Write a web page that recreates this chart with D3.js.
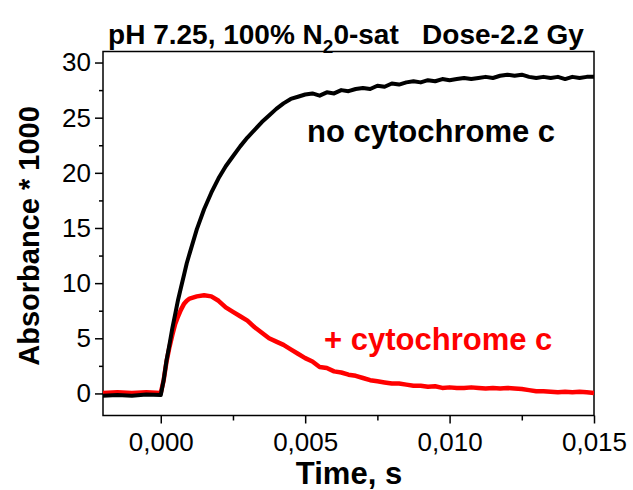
<!DOCTYPE html>
<html><head><meta charset="utf-8">
<script src="https://cdn.jsdelivr.net/npm/d3@7"></script>
<style>body{margin:0;background:#fff}svg{display:block}text{font-family:"Liberation Sans",Arial,sans-serif}</style>
</head><body><svg id="c" width="633" height="490"></svg>
<script>
const times = [-0.002,-0.0015,-0.001,-0.0005,0,0.0001,0.0002,0.0003,0.0004,0.0005,0.0006,0.0007,0.0008,0.0009,0.001,
  0.00125,0.0015,0.00175,0.002,0.00225,0.0025,0.00275,0.003,0.00325,0.0035,0.00375,0.004,0.00425,0.0045,0.00475,
  0.005,0.00525,0.0055,0.00575,0.006,0.00625,0.0065,0.00675,0.007,0.00725,0.0075,0.00775,0.008,0.00825,0.0085,0.00875,
  0.009,0.00925,0.0095,0.00975,0.01,0.01025,0.0105,0.01075,0.011,0.01125,0.0115,0.01175,0.012,0.01225,0.0125,0.01275,
  0.013,0.01325,0.0135,0.01375,0.014,0.01425,0.0145,0.01475,0.015];
const noCyt = [-0.2,-0.15,-0.2,-0.1,-0.15,1.2,3.0,4.4,5.9,7.2,8.5,9.6,10.7,11.8,12.7,
  14.9,16.7,18.2,19.5,20.6,21.5,22.4,23.2,23.9,24.6,25.2,25.8,26.3,26.7,26.9,
  27.1,27.2,27.0,27.3,27.2,27.5,27.4,27.6,27.7,27.6,27.9,27.8,28.1,28.0,28.2,28.3,
  28.2,28.4,28.3,28.5,28.4,28.5,28.6,28.5,28.6,28.7,28.6,28.8,28.9,28.8,28.9,28.7,
  28.6,28.7,28.6,28.7,28.5,28.7,28.6,28.7,28.7];
const withCyt = [0.05,0.1,0.05,0.1,0.05,1.2,2.9,4.2,5.3,6.3,7.0,7.6,8.1,8.4,8.6,
  8.8,8.9,8.8,8.4,7.8,7.4,7.0,6.6,6.0,5.5,5.0,4.7,4.4,4.0,3.6,
  3.2,2.9,2.4,2.3,2.0,1.9,1.7,1.6,1.4,1.2,1.1,1.0,0.9,0.9,0.8,0.7,
  0.7,0.6,0.65,0.5,0.55,0.5,0.5,0.55,0.5,0.45,0.5,0.45,0.5,0.45,0.4,0.3,
  0.2,0.2,0.15,0.1,0.15,0.1,0.15,0.1,0.05];
const xTicks = [0,0.005,0.010,0.015];
const xTickLabels = ["0,000","0,005","0,010","0,015"];
const yTicks = [0,5,10,15,20,25,30];

const svg = d3.select("#c");
const L=103,R=594,T=51.5,B=415.5;
const x = d3.scaleLinear().domain([-0.002,0.015]).range([L,R]);
const y = d3.scaleLinear().domain([-2,31]).range([B,T]);

svg.append("rect").attr("x",L).attr("y",T).attr("width",R-L).attr("height",B-T)
  .attr("fill","none").attr("stroke","#000").attr("stroke-width",1.5);

const xAxis = svg.append("g").attr("transform",`translate(0,${B})`)
  .call(d3.axisBottom(x).tickValues(xTicks).tickSize(8).tickPadding(9).tickFormat((d,i)=>xTickLabels[i]));
const xMinor = svg.append("g").attr("transform",`translate(0,${B})`)
  .call(d3.axisBottom(x).tickValues([0.0025,0.0075,0.0125]).tickSize(5).tickFormat(""));
const yAxis = svg.append("g").attr("transform",`translate(${L},0)`)
  .call(d3.axisLeft(y).tickValues(yTicks).tickSize(8).tickPadding(4));
const yMinor = svg.append("g").attr("transform",`translate(${L},0)`)
  .call(d3.axisLeft(y).tickValues([2.5,7.5,12.5,17.5,22.5,27.5]).tickSize(4).tickFormat(""));
[xAxis,xMinor,yAxis,yMinor].forEach(g=>{
  g.select(".domain").remove();
  g.selectAll("line").attr("stroke","#000").attr("stroke-width",1.5);
  g.selectAll("text").attr("font-size",26).attr("fill","#000").attr("font-family","Liberation Sans, Arial, sans-serif");
});

const line = d3.line().x((d,i)=>x(times[i])).y(d=>y(d));
svg.append("path").datum(withCyt).attr("d",line).attr("fill","none").attr("stroke","#ff0000").attr("stroke-width",4.5).attr("stroke-linejoin","round");
svg.append("path").datum(noCyt).attr("d",line).attr("fill","none").attr("stroke","#000").attr("stroke-width",4).attr("stroke-linejoin","round");

const title = svg.append("text").attr("x",346).attr("y",44).attr("text-anchor","middle")
  .attr("font-size",28).attr("font-weight","bold");
title.append("tspan").text("pH 7.25, 100% N");
title.append("tspan").attr("font-size",19).attr("dy",9).text("2");
title.append("tspan").attr("dy",-9).text("0-sat\u00a0\u00a0\u00a0Dose-2.2 Gy");

svg.append("text").attr("transform","translate(39,236) rotate(-90)").attr("text-anchor","middle")
  .attr("font-size",29).attr("font-weight","bold").text("Absorbance * 1000");
svg.append("text").attr("x",349).attr("y",484).attr("text-anchor","middle")
  .attr("font-size",31).attr("font-weight","bold").text("Time, s");

svg.append("text").attr("x",307).attr("y",142).attr("font-size",31).attr("font-weight","bold").attr("fill","#000").text("no cytochrome c");
svg.append("text").attr("x",324).attr("y",350).attr("font-size",31).attr("font-weight","bold").attr("fill","#ff0000").text("+ cytochrome c");
</script></body></html>
